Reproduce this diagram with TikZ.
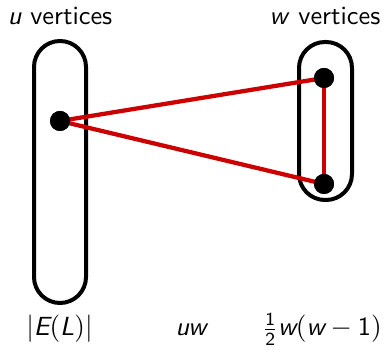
\documentclass[tikz,border=0pt]{standalone}
\usepackage{amsmath}
\usepackage{tikz}
\usetikzlibrary{positioning}
\definecolor{edgered}{RGB}{204,0,0}
\newcommand{\sv}[1]{\textsf{\slshape #1}}

\begin{document}
\begin{tikzpicture}[x=0.4pt, y=-0.4pt, font=\sffamily\fontsize{10.5}{12.6}\selectfont,
    group/.style={draw, line width=1.6pt, rounded corners=10.4pt, inner sep=0pt},
    vert/.style={circle, fill=black, inner sep=0pt, minimum size=8pt},
    link/.style={draw=edgered, line width=1.7pt}]
    \useasboundingbox (0,0) rectangle (385,350);

    % the two vertex sets
    \node [group, minimum width=20.8pt, minimum height=104.8pt] (uset) at (60,172) {};
    \node [group, minimum width=21.2pt, minimum height=63.2pt] (wset) at (325.5,121) {};

    % vertices
    \node [vert] (u0) at (60,121) {};
    \node [vert] (w0) at (324,78) {};
    \node [vert] (w1) at (324,184) {};

    % edges
    \draw [link] (u0.center) -- (w0.center);
    \draw [link] (u0.center) -- (w1.center);
    \draw [link] (w0.center) -- (w1.center);
    \node [vert] at (u0) {};
    \node [vert] at (w0) {};
    \node [vert] at (w1) {};

    % set sizes
    \node [anchor=base] (ulab) at (60,25) {\sv{u} vertices};
    \node [anchor=base] (wlab) at (325,25) {\sv{w} vertices};

    % edge counts
    \node [anchor=base] (ecount) at (59.5,336) {$|\sv{E}(\sv{L})|$};
    \node [anchor=base] (uwcount) at (192,336) {\sv{uw}};
    \node [anchor=base] (wwcount) at (322,336) {$\frac{\textsf{1}}{\textsf{2}}\sv{w}(\sv{w} - \textsf{1})$};
\end{tikzpicture}
\end{document}
